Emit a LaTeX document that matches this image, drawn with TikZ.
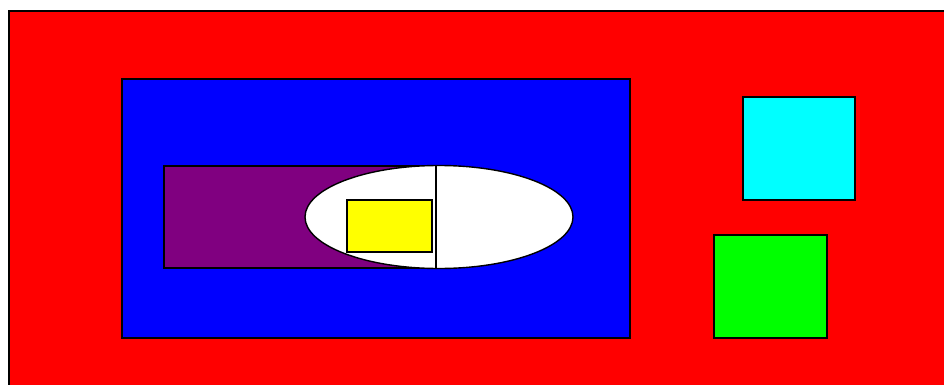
\documentclass[tikz,border=0pt]{standalone}
\usepackage{tikz}
\usepackage{xcolor}
\usetikzlibrary{positioning,shapes}
\definecolor{outerred}{HTML}{FF0000}
\definecolor{innerblue}{HTML}{0000FF}
\definecolor{plum}{HTML}{800080}
\definecolor{lemon}{HTML}{FFFF00}
\definecolor{aqua}{HTML}{00FFFF}
\definecolor{lime}{HTML}{00FF00}
\tikzset{
  panel/.style={draw=black,line width=1.4pt,rectangle,anchor=north west,
                inner sep=0pt,outer sep=0pt},
  blob/.style={draw=black,fill=white,line width=1.4pt,ellipse,
               inner sep=0pt,outer sep=0pt},
  divider/.style={draw=black,line width=1.4pt}
}

\begin{document}
\begin{tikzpicture}[x=1pt,y=-1pt]
      \clip (0,0) rectangle (944,385);
      \node[panel,fill=outerred,minimum width=960pt,minimum height=400pt] (frame) at (9,11) {};
      \node[panel,fill=innerblue,minimum width=508pt,minimum height=259pt] (board) at (122,79) {};
      \node[panel,fill=plum,minimum width=272pt,minimum height=102pt] (strip) at (164,166) {};
      \node[blob,minimum width=268pt,minimum height=103pt] (lens) at (439,217) {};
      \draw[divider] (strip.north east)--(strip.south east);
      \node[panel,fill=lemon,minimum width=85pt,minimum height=52pt] (chip) at (347,200) {};
      \node[panel,fill=aqua,minimum width=112pt,minimum height=103pt] (tileA) at (743,97) {};
      \node[panel,fill=lime,minimum width=113pt,minimum height=103pt] (tileB) at (714,235) {};
    \end{tikzpicture}
\end{document}
